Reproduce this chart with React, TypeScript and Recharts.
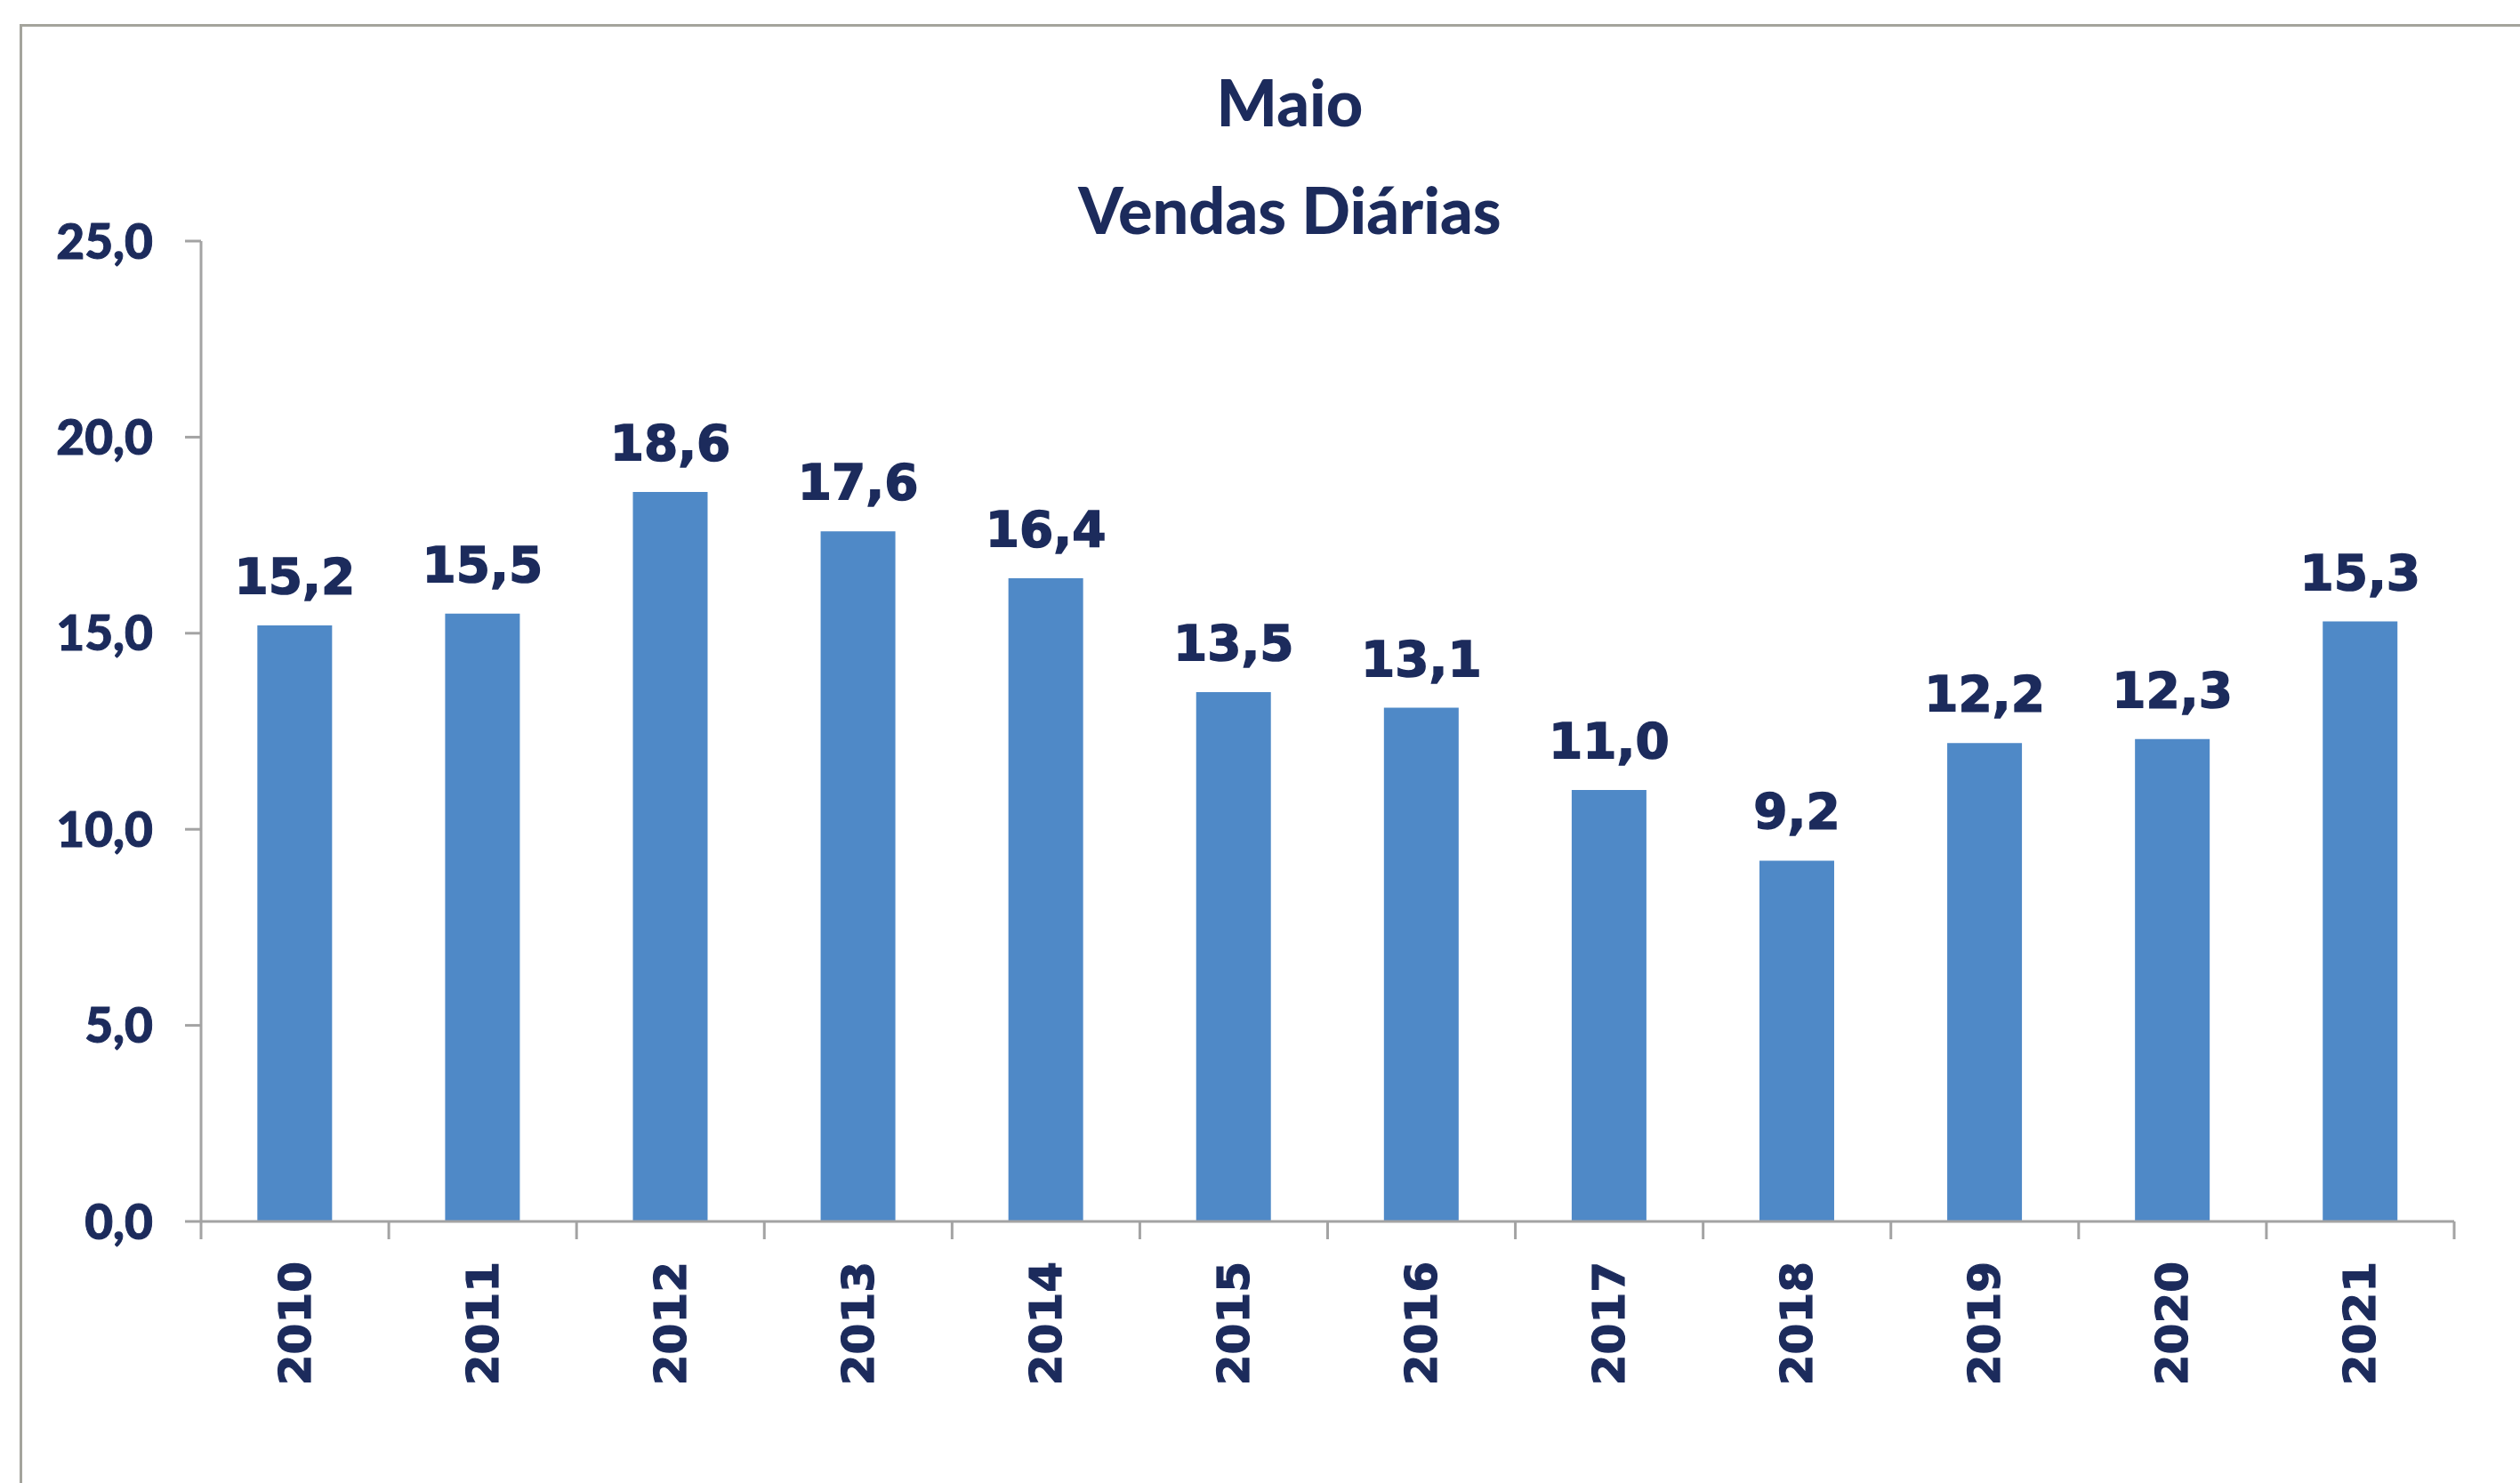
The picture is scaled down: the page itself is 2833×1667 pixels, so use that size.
import React from "react";
import { BarChart, Bar, XAxis, YAxis, LabelList } from "recharts";

const anos = ["2010", "2011", "2012", "2013", "2014", "2015", "2016", "2017", "2018", "2019", "2020", "2021"];
const vendasDiarias = [15.2, 15.5, 18.6, 17.6, 16.4, 13.5, 13.1, 11.0, 9.2, 12.2, 12.3, 15.3];
const yTicks = [0, 5, 10, 15, 20, 25];
const titulo = "Maio";
const subtitulo = "Vendas Diárias";

const data = anos.map((ano, i) => ({ ano, valor: vendasDiarias[i] }));

const W = 2833;
const H = 1667;
const MARGIN = { top: 271, right: 74, left: 26, bottom: 94 };
const Y_AXIS_W = 200;
const X_AXIS_H = 200;
const PLOT_LEFT = MARGIN.left + Y_AXIS_W;
const PLOT_RIGHT = W - MARGIN.right;
const PLOT_BOTTOM = H - MARGIN.bottom - X_AXIS_H;
const BAND = (PLOT_RIGHT - PLOT_LEFT) / anos.length;

const NAVY = "#1c2b5c";
const AXIS = "#a3a3a3";
const BAR = "#4f89c7";

const fmt = (v: number) => Number(v).toFixed(1).replace(".", ",");

// excel style: ticks between categories, labels rotated
const YearTick = (props: any) => {
  const { x, payload } = props;
  const idx = anos.indexOf(payload.value);
  const left = x - BAND / 2;
  return (
    <g>
      <line x1={left} x2={left} y1={PLOT_BOTTOM} y2={PLOT_BOTTOM + 20} stroke={AXIS} strokeWidth={3} />
      {idx === anos.length - 1 && (
        <line x1={x + BAND / 2} x2={x + BAND / 2} y1={PLOT_BOTTOM} y2={PLOT_BOTTOM + 20} stroke={AXIS} strokeWidth={3} />
      )}
      <text
        transform={`translate(${x},${PLOT_BOTTOM + 45}) rotate(-90)`}
        textAnchor="end"
        dominantBaseline="central"
        fill={NAVY}
        stroke={NAVY}
        strokeWidth={1.2}
        fontFamily="DejaVu Sans"
        fontWeight="bold"
        fontSize={50}
      >
        {payload.value}
      </text>
    </g>
  );
};

const titleStyle: React.CSSProperties = {
  position: "absolute",
  left: 0,
  width: 2900,
  lineHeight: "72px",
  textAlign: "center",
  fontFamily: "Lato",
  fontWeight: 900,
  fontSize: 72,
  color: NAVY,
};

export default function App() {
  return (
    <div style={{ position: "absolute", left: 0, top: 0, width: W, height: H, background: "#fff", overflow: "hidden" }}>
      <div
        style={{
          position: "absolute",
          left: 22,
          top: 27,
          width: W,
          height: H,
          borderTop: "3px solid #a4a49c",
          borderLeft: "3px solid #a4a49c",
        }}
      />
      <div style={{ ...titleStyle, top: 78 }}>{titulo}</div>
      <div style={{ ...titleStyle, top: 199 }}>{subtitulo}</div>
      <div style={{ position: "absolute", left: 0, top: 0 }}>
        <BarChart width={W} height={H} data={data} margin={MARGIN} barCategoryGap="30%">
          <XAxis
            dataKey="ano"
            height={X_AXIS_H}
            interval={0}
            tickLine={false}
            axisLine={{ stroke: AXIS, strokeWidth: 3 }}
            tick={<YearTick />}
          />
          <YAxis
            width={Y_AXIS_W}
            domain={[0, 25]}
            ticks={yTicks}
            tickFormatter={fmt}
            tickSize={18}
            tickMargin={36}
            axisLine={{ stroke: AXIS, strokeWidth: 3 }}
            tickLine={{ stroke: AXIS, strokeWidth: 3 }}
            tick={{ fill: NAVY, stroke: NAVY, strokeWidth: 1, fontFamily: "Lato", fontWeight: 900, fontSize: 55 }}
          />
          <Bar dataKey="valor" fill={BAR} isAnimationActive={false}>
            <LabelList
              dataKey="valor"
              position="top"
              offset={36}
              formatter={(v: any) => fmt(v)}
              style={{ fill: NAVY, stroke: NAVY, strokeWidth: 1.5, fontFamily: "DejaVu Sans", fontWeight: "bold", fontSize: 55 }}
            />
          </Bar>
        </BarChart>
      </div>
    </div>
  );
}
